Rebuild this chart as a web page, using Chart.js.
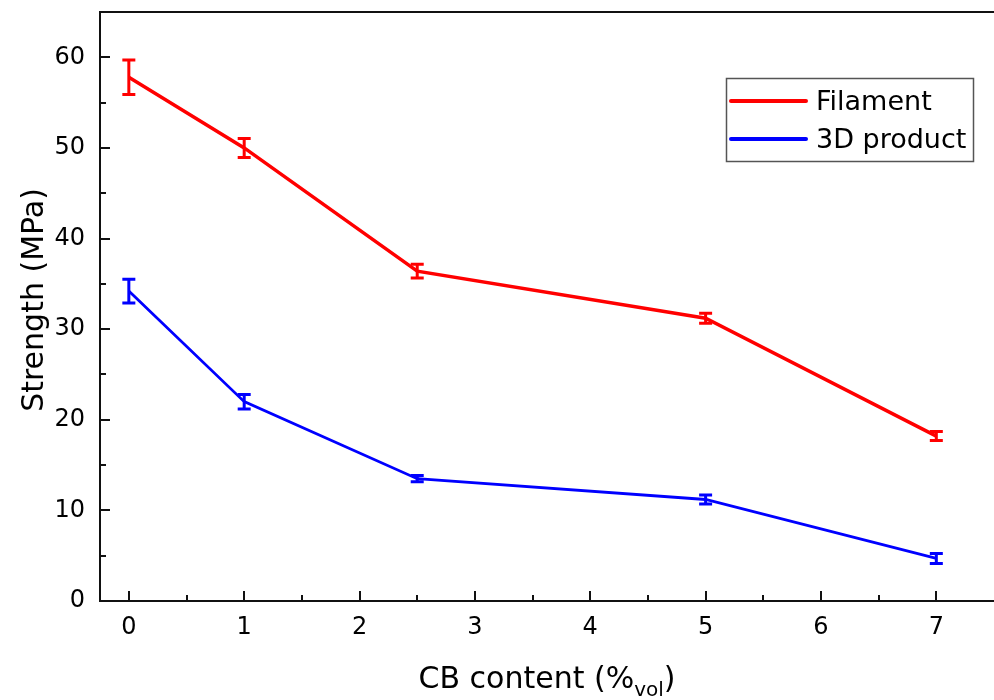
<!DOCTYPE html>
<html>
<head>
<meta charset="utf-8">
<script src="https://cdn.jsdelivr.net/npm/chart.js@4.4.1/dist/chart.umd.min.js"></script>
<style>
  body { margin: 0; background: #fff; }
  #wrap { width: 994px; height: 700px; }
</style>
</head>
<body>
<div id="wrap"><canvas id="strengthChart" width="994" height="700"></canvas></div>
<script>
// CB content (%vol) and measured strengths (MPa)
const cbContent = [0, 1, 2.5, 5, 7];
const filamentStrength = [57.8, 50.0, 36.4, 31.2, 18.2];
const filamentError = [1.9, 1.05, 0.75, 0.55, 0.5];
const productStrength = [34.2, 22.0, 13.5, 11.2, 4.7];
const productError = [1.3, 0.8, 0.35, 0.5, 0.55];

const xTicks = [0, 1, 2, 3, 4, 5, 6, 7];
const yTicks = [0, 10, 20, 30, 40, 50, 60];
const seriesNames = ['Filament', '3D product'];

const FONT = '"DejaVu Sans", Verdana, sans-serif';

const toPoints = (xs, ys) => xs.map((x, i) => ({ x: x, y: ys[i] }));

// error bars, inward ticks, frame, titles and legend
const decorations = {
  id: 'decorations',
  afterDatasetsDraw(chart) {
    const ctx = chart.ctx;
    const xs = chart.scales.x, ys = chart.scales.y;
    chart.data.datasets.forEach(ds => {
      ctx.save();
      ctx.strokeStyle = ds.borderColor;
      ctx.lineWidth = 3;
      ds.data.forEach((p, i) => {
        const px = xs.getPixelForValue(p.x);
        const top = ys.getPixelForValue(p.y + ds.errors[i]);
        const bot = ys.getPixelForValue(p.y - ds.errors[i]);
        ctx.beginPath();
        ctx.moveTo(px, top); ctx.lineTo(px, bot);
        ctx.moveTo(px - 6.5, top); ctx.lineTo(px + 6.5, top);
        ctx.moveTo(px - 6.5, bot); ctx.lineTo(px + 6.5, bot);
        ctx.stroke();
      });
      ctx.restore();
    });
  },
  afterDraw(chart) {
    const ctx = chart.ctx;
    const area = chart.chartArea;
    const xs = chart.scales.x, ys = chart.scales.y;
    ctx.save();
    ctx.strokeStyle = '#111';
    ctx.lineWidth = 2;
    // top frame line
    ctx.beginPath();
    ctx.moveTo(area.left, area.top); ctx.lineTo(area.right, area.top);
    ctx.stroke();
    // x ticks (major + minor), pointing inward
    ctx.beginPath();
    xTicks.forEach(v => {
      const px = Math.round(xs.getPixelForValue(v));
      ctx.moveTo(px, area.bottom); ctx.lineTo(px, area.bottom - 10);
      if (v < 7) {
        const mx = Math.round(xs.getPixelForValue(v + 0.5));
        ctx.moveTo(mx, area.bottom); ctx.lineTo(mx, area.bottom - 6);
      }
    });
    yTicks.forEach(v => {
      const py = Math.round(ys.getPixelForValue(v));
      ctx.moveTo(area.left, py); ctx.lineTo(area.left + 10, py);
      const my = Math.round(ys.getPixelForValue(v + 5));
      ctx.moveTo(area.left, my); ctx.lineTo(area.left + 6, my);
    });
    ctx.stroke();

    // y axis title
    ctx.fillStyle = '#000';
    ctx.font = '30px ' + FONT;
    ctx.textAlign = 'center';
    ctx.textBaseline = 'middle';
    ctx.save();
    ctx.translate(35, 300);
    ctx.rotate(-Math.PI / 2);
    ctx.fillText('Strength (MPa)', 0, 0);
    ctx.restore();

    // x axis title with subscript
    const main = 'CB content (%', sub = 'vol', close = ')';
    ctx.textAlign = 'left';
    ctx.textBaseline = 'alphabetic';
    ctx.font = '30px ' + FONT;
    const wMain = ctx.measureText(main).width;
    const wClose = ctx.measureText(close).width;
    ctx.font = '20px ' + FONT;
    const wSub = ctx.measureText(sub).width;
    let tx = (area.left + area.right) / 2 - (wMain + wSub + wClose) / 2;
    const base = 688;
    ctx.font = '30px ' + FONT;
    ctx.fillText(main, tx, base);
    tx += wMain;
    ctx.font = '20px ' + FONT;
    ctx.fillText(sub, tx, base + 8);
    tx += wSub;
    ctx.font = '30px ' + FONT;
    ctx.fillText(close, tx, base);

    // legend
    ctx.strokeStyle = '#555';
    ctx.lineWidth = 1.5;
    ctx.strokeRect(726.5, 78.5, 247, 83);
    ctx.font = '27px ' + FONT;
    ctx.textBaseline = 'middle';
    chart.data.datasets.forEach((ds, i) => {
      const ly = 101 + i * 38;
      ctx.strokeStyle = ds.borderColor;
      ctx.lineWidth = 4;
      ctx.lineCap = 'round';
      ctx.beginPath();
      ctx.moveTo(731, ly); ctx.lineTo(806, ly);
      ctx.stroke();
      ctx.fillStyle = '#000';
      ctx.fillText(ds.label, 816, ly + 2);
    });
    ctx.restore();
  }
};

new Chart(document.getElementById('strengthChart'), {
  type: 'line',
  data: {
    datasets: [
      {
        label: seriesNames[0],
        data: toPoints(cbContent, filamentStrength),
        errors: filamentError,
        borderColor: '#ff0000',
        borderWidth: 3.5,
        pointRadius: 0,
        tension: 0,
      },
      {
        label: seriesNames[1],
        data: toPoints(cbContent, productStrength),
        errors: productError,
        borderColor: '#0000ff',
        borderWidth: 2.8,
        pointRadius: 0,
        tension: 0,
      }
    ]
  },
  options: {
    responsive: false,
    animation: false,
    devicePixelRatio: 1,
    layout: { padding: { top: 12, right: 0, left: 0, bottom: 0 } },
    plugins: {
      legend: { display: false },
      tooltip: { enabled: false },
    },
    scales: {
      x: {
        type: 'linear',
        min: -0.25,
        max: 7.5,
        afterFit: (scale) => { scale.height = 99; scale.paddingLeft = 0; scale.paddingRight = 0; },
        afterBuildTicks: (scale) => { scale.ticks = xTicks.map(v => ({ value: v })); },
        grid: { display: false, drawTicks: false },
        border: { display: true, color: '#111', width: 2 },
        ticks: { color: '#000', padding: 12, font: { family: FONT, size: 24 } },
      },
      y: {
        type: 'linear',
        min: 0,
        max: 65,
        afterFit: (scale) => { scale.width = 100; scale.paddingTop = 0; scale.paddingBottom = 0; },
        afterBuildTicks: (scale) => { scale.ticks = yTicks.map(v => ({ value: v })); },
        grid: { display: false, drawTicks: false },
        border: { display: true, color: '#111', width: 2 },
        ticks: { color: '#000', padding: 15, font: { family: FONT, size: 24 } },
      }
    }
  },
  plugins: [decorations]
});
</script>
</body>
</html>
